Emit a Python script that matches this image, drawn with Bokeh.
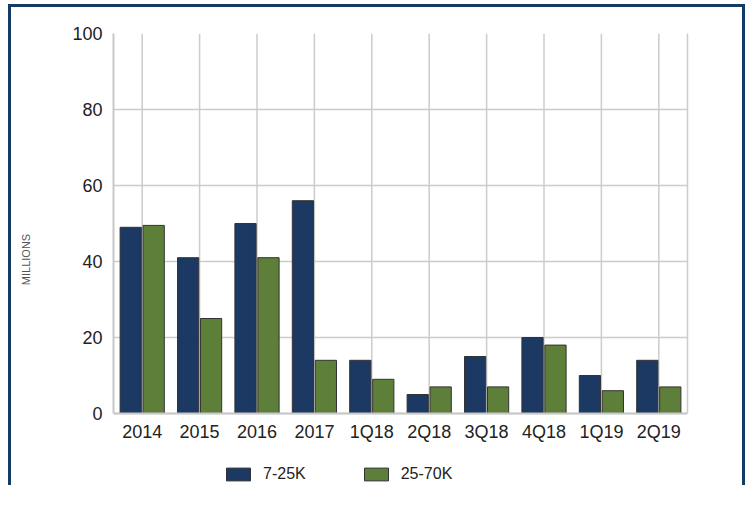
from bokeh.plotting import figure
from bokeh.models import (FactorRange, Range1d, FixedTicker, Legend, LegendItem,
                          ColumnDataSource, LinearAxis)
from bokeh.transform import dodge
from bokeh.embed import file_html
from bokeh.resources import INLINE

periods = ["2014", "2015", "2016", "2017", "1Q18", "2Q18", "3Q18", "4Q18", "1Q19", "2Q19"]
small_vals = [49, 41, 50, 56, 14, 5, 15, 20, 10, 14]
mid_vals = [49.5, 25, 41, 14, 9, 7, 7, 18, 6, 7]
series_names = ["7-25K", "25-70K"]
y_ticks = [0, 20, 40, 60, 80, 100]

BLUE = "#1b3962"
GREEN = "#5d7f39"
GRID = "#cccccc"
FONT = "Liberation Sans"

# frame extends below zero so that the legend can sit inside it
FRAME_H = 452
PLOT_H = 380
y_floor = -y_ticks[-1] * (FRAME_H - PLOT_H) / PLOT_H

src = ColumnDataSource(dict(period=periods, small=small_vals, mid=mid_vals))

p = figure(
    x_range=FactorRange(*periods), y_range=Range1d(y_floor, y_ticks[-1]),
    frame_width=574, frame_height=FRAME_H, output_backend="svg", toolbar_location=None,
    min_border_left=102, min_border_right=55, min_border_top=26, min_border_bottom=0,
)
p.styles = {"border-top": "3px solid #123c66", "border-left": "3px solid #123c66",
            "border-right": "3px solid #123c66", "margin-left": "8px", "margin-top": "4px"}
p.outline_line_color = None

# vertical grid lines at category centres, spanning the value range only
p.segment(x0=periods, y0=y_ticks[0], x1=periods, y1=y_ticks[-1],
          line_color=GRID, line_width=1.5, level="underlay")
p.xgrid.visible = False

r1 = p.vbar(x=dodge("period", -0.2, range=p.x_range), top="small", width=0.37, source=src,
            fill_color=BLUE, line_color="#333333", line_width=1)
r2 = p.vbar(x=dodge("period", 0.2, range=p.x_range), top="mid", width=0.37, source=src,
            fill_color=GREEN, line_color="#333333", line_width=1)

p.ygrid.grid_line_color = GRID
p.ygrid.grid_line_width = 1.5
p.ygrid.ticker = FixedTicker(ticks=y_ticks)
p.ygrid.bounds = (y_ticks[0] - 1, y_ticks[-1] + 1)
p.yaxis.ticker = FixedTicker(ticks=y_ticks)
p.yaxis.bounds = (y_ticks[0], y_ticks[-1])
p.xaxis.fixed_location = 0

for ax in (p.xaxis, p.yaxis):
    ax.axis_line_color = "#c8c8c8"
    ax.axis_line_width = 2
    ax.major_tick_line_color = None
    ax.minor_tick_line_color = None
    ax.major_label_text_font = FONT
    ax.major_label_text_font_size = "18px"
    ax.major_label_text_color = "#222222"
p.xaxis.major_label_standoff = 2
p.yaxis.major_label_standoff = 5

p.yaxis.axis_label = "MILLIONS"
p.yaxis.axis_label_text_font = FONT
p.yaxis.axis_label_text_font_size = "11px"
p.yaxis.axis_label_text_font_style = "normal"
p.yaxis.axis_label_text_color = "#555555"
p.yaxis.axis_label_standoff = 37

# right-hand frame edge over the value range
right_edge = LinearAxis(ticker=FixedTicker(ticks=[]), bounds=(y_ticks[0], y_ticks[-1]),
                        axis_line_color=GRID, axis_line_width=1.5,
                        major_tick_line_color=None, minor_tick_line_color=None)
p.add_layout(right_edge, "right")

legend = Legend(
    items=[LegendItem(label=series_names[0], renderers=[r1]),
           LegendItem(label=series_names[1], renderers=[r2])],
    orientation="horizontal", location=(110, 2),
    glyph_width=30, glyph_height=16, label_standoff=10, spacing=55,
    padding=0, margin=0, border_line_color=None, background_fill_alpha=0,
    label_text_font=FONT, label_text_font_size="16px", label_height=16,
    label_text_color="#222222",
)
p.add_layout(legend)

open("out.html", "w").write(file_html(p, INLINE))
